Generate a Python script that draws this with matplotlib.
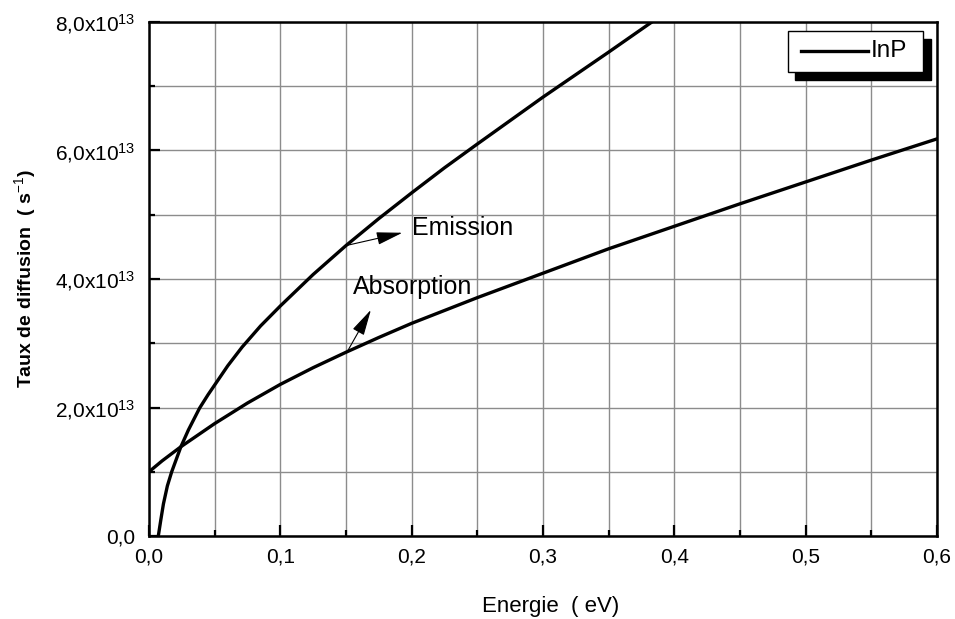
import matplotlib
matplotlib.use("Agg")
import matplotlib.pyplot as plt
from matplotlib.ticker import MultipleLocator, FuncFormatter
from matplotlib.patches import Rectangle
from matplotlib.lines import Line2D

plt.rcParams["font.family"] = ["Liberation Sans", "DejaVu Sans"]
plt.rcParams["mathtext.fontset"] = "custom"
plt.rcParams["mathtext.rm"] = "Liberation Sans"
plt.rcParams["mathtext.it"] = "Liberation Sans"
plt.rcParams["mathtext.bf"] = "Liberation Sans:bold"

# taux de diffusion (s^-1) en fonction de l'energie (eV)
energie_em = [0.0071, 0.009, 0.011, 0.014, 0.0173, 0.0243, 0.03, 0.0385, 0.045, 0.05, 0.06,
              0.0709, 0.085, 0.1, 0.125, 0.15, 0.175, 0.2, 0.225, 0.25, 0.3, 0.35, 0.383]
taux_em = [0.0, 0.25e13, 0.5e13, 0.78e13, 1.0e13, 1.39e13, 1.65e13, 1.99e13, 2.2e13, 2.35e13,
           2.65e13, 2.94e13, 3.27e13, 3.58e13, 4.07e13, 4.52e13, 4.94e13, 5.34e13, 5.73e13,
           6.10e13, 6.83e13, 7.53e13, 8.0e13]

energie_abs = [0.0, 0.01, 0.0243, 0.05, 0.075, 0.1, 0.125, 0.15, 0.175, 0.2, 0.25, 0.3,
               0.35, 0.4, 0.45, 0.5, 0.55, 0.6]
taux_abs = [1.0e13, 1.17e13, 1.39e13, 1.75e13, 2.07e13, 2.36e13, 2.62e13, 2.86e13, 3.09e13,
            3.31e13, 3.71e13, 4.09e13, 4.47e13, 4.82e13, 5.17e13, 5.51e13, 5.85e13, 6.18e13]

materiau = "InP"

fig = plt.figure(figsize=(9.55, 6.19), dpi=100)
ax = fig.add_axes([0.156, 0.134, 0.825, 0.8305])

ax.plot(energie_em, taux_em, color="black", lw=2.4, solid_joinstyle="round")
ax.plot(energie_abs, taux_abs, color="black", lw=2.4, solid_joinstyle="round")

ax.set_xlim(0, 0.6)
ax.set_ylim(0, 8e13)
ax.xaxis.set_major_locator(MultipleLocator(0.1))
ax.xaxis.set_minor_locator(MultipleLocator(0.05))
ax.yaxis.set_major_locator(MultipleLocator(2e13))
ax.yaxis.set_minor_locator(MultipleLocator(1e13))

def fmt_x(v, pos):
    return f"{v:.1f}".replace(".", ",")

def fmt_y(v, pos):
    if abs(v) < 1:
        return "0,0"
    return f"{v / 1e13:.1f}".replace(".", ",") + r"x10$^{13}$"

ax.xaxis.set_major_formatter(FuncFormatter(fmt_x))
ax.yaxis.set_major_formatter(FuncFormatter(fmt_y))

ax.grid(which="both", color="#8c8c8c", lw=1.0)
ax.set_axisbelow(True)
for s in ax.spines.values():
    s.set_linewidth(1.8)

ax.tick_params(which="both", direction="in", top=False, right=False, width=1.6)
ax.tick_params(which="major", length=8, labelsize=15, pad=10)
ax.tick_params(axis="x", which="major", pad=8)
ax.tick_params(which="minor", length=4.5)

ax.set_xlabel("Energie  ( eV)", fontsize=16, labelpad=20)
ax.xaxis.set_label_coords(0.51, -0.117)
ax.set_ylabel(r"Taux de diffusion  ( s$^{-1}$)", fontsize=14, fontweight="bold", labelpad=12)

# annotations
arrow = dict(arrowstyle="-|>,head_length=0.9,head_width=0.22", color="black", lw=0.8,
             mutation_scale=18, shrinkA=0, shrinkB=0)
ax.annotate("", xy=(0.193, 4.72e13), xytext=(0.15, 4.52e13), arrowprops=arrow)
ax.text(0.2, 4.8e13, "Emission", fontsize=18, ha="left", va="center")
ax.annotate("", xy=(0.169, 3.52e13), xytext=(0.151, 2.87e13), arrowprops=arrow)
ax.text(0.155, 3.88e13, "Absorption", fontsize=18, ha="left", va="center")

# legende avec ombre pleine
bx, by, bw, bh = 0.811, 0.903, 0.172, 0.080
ax.add_patch(Rectangle((bx + 0.009, by - 0.016), bw, bh, transform=ax.transAxes,
                       facecolor="black", edgecolor="black", zorder=5, clip_on=False))
ax.add_patch(Rectangle((bx, by), bw, bh, transform=ax.transAxes,
                       facecolor="white", edgecolor="black", lw=1.0, zorder=6, clip_on=False))
ax.add_line(Line2D([bx + 0.017, bx + 0.101], [by + bh * 0.5] * 2, transform=ax.transAxes,
                   color="black", lw=2.4, zorder=7))
ax.text(bx + 0.105, by + bh * 0.5, materiau, transform=ax.transAxes, fontsize=17.5,
        ha="left", va="center", zorder=7)

fig.savefig("out.png", dpi=100)
